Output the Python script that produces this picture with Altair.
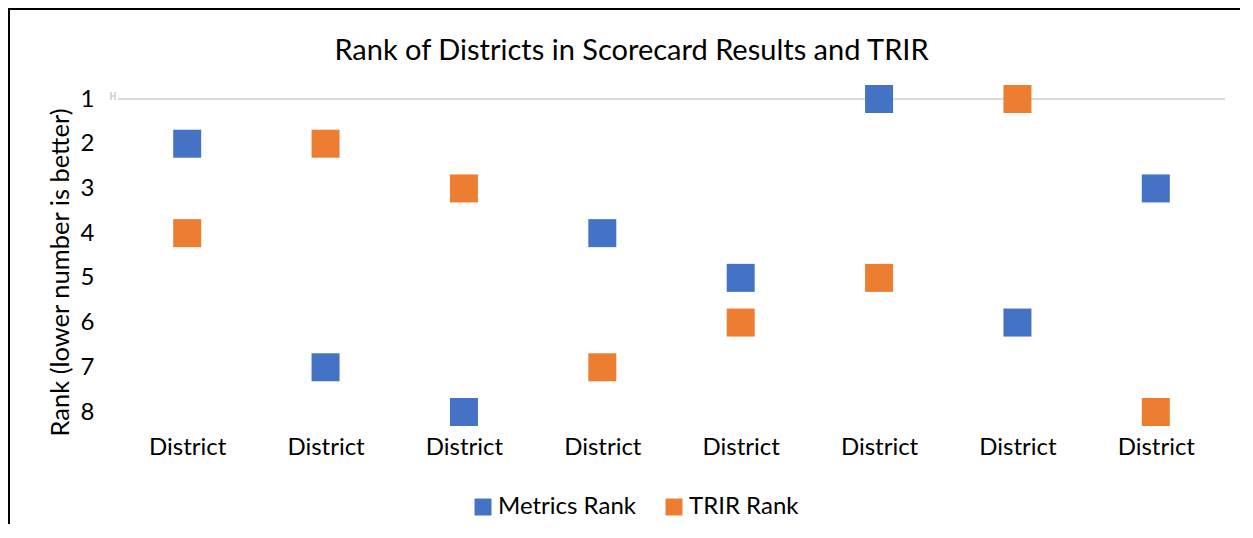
import altair as alt
import pandas as pd

# ---- data ----
district_slots = ["1", "2", "3", "4", "5", "6", "7", "8"]
district_labels = ["District"] * 8
metrics_rank = [2, 7, 8, 4, 5, 1, 6, 3]
trir_rank = [4, 2, 3, 7, 6, 5, 1, 8]
series_names = ["Metrics Rank", "TRIR Rank"]
series_colors = ["#4472C4", "#ED7D31"]
rank_ticks = [1, 2, 3, 4, 5, 6, 7, 8]

rows = []
for s, m, t in zip(district_slots, metrics_rank, trir_rank):
    rows.append({"slot": s, "series": series_names[0], "rank": m})
    rows.append({"slot": s, "series": series_names[1], "rank": t})
df = pd.DataFrame(rows)

FONT = "Lato"
label_expr = "[" + ",".join("'" + l + "'" for l in district_labels) + "][toNumber(datum.value) - 1]"

W, H = 1107, 313
PAD_L, PAD_T, PAD_R, PAD_B = 110, 91, 15, 112
GRAY = "#D9D9D9"

y_scale = alt.Scale(domain=[1, 8], reverse=True, nice=False, zero=False)

x_enc = alt.X(
    "slot:O",
    sort=district_slots,
    scale=alt.Scale(paddingInner=0, paddingOuter=0),
    axis=alt.Axis(
        title=None, labelExpr=label_expr, labelAngle=0, domain=False, ticks=False,
        tickSize=0, labelFont=FONT, labelFontSize=24, labelColor="#000000",
        labelBaseline="alphabetic", labelPadding=42,
    ),
)
y_enc = alt.Y(
    "rank:Q",
    scale=y_scale,
    axis=alt.Axis(
        title="Rank (lower number is better)", values=rank_ticks, format="d",
        grid=False, domain=False, ticks=False, tickSize=0,
        labelFont=FONT, labelFontSize=24, labelColor="#000000", labelPadding=24,
        titleFont=FONT, titleFontSize=25.5, titleFontWeight="normal", titleColor="#000000",
        titleAngle=270, titleAlign="center", titleBaseline="middle",
        titleX=-58, titleY=173,
    ),
)

axis_line = alt.Chart(pd.DataFrame({"r": [1]})).mark_rule(
    color=GRAY, strokeWidth=2
).encode(y=alt.Y("r:Q", scale=y_scale))

# small axis-break glyph at the left end of the horizontal axis line
brk = pd.DataFrame({"r": [1]})
break_a = alt.Chart(brk).mark_rule(color=GRAY, strokeWidth=2).encode(
    x=alt.value(-7), y=alt.value(-7), y2=alt.value(1)
)
break_b = alt.Chart(brk).mark_rule(color=GRAY, strokeWidth=2).encode(
    x=alt.value(-3), y=alt.value(-7), y2=alt.value(1)
)
break_c = alt.Chart(brk).mark_rule(color=GRAY, strokeWidth=2).encode(
    x=alt.value(-7), x2=alt.value(-3), y=alt.value(-3)
)

points = alt.Chart(df).mark_square(size=784, opacity=1, filled=True).encode(
    x=x_enc,
    y=y_enc,
    color=alt.Color(
        "series:N",
        scale=alt.Scale(domain=series_names, range=series_colors),
        legend=alt.Legend(
            title=None, orient="none", direction="horizontal",
            legendX=353, legendY=396, symbolType="square", symbolSize=289,
            symbolStrokeWidth=0, labelFont=FONT, labelFontSize=24, labelColor="#000000",
            labelOffset=3, columnPadding=26, padding=0,
        ),
    ),
)

border_left = alt.Chart(pd.DataFrame({"r": [0]})).mark_rule(color="#000000", strokeWidth=2).encode(
    x=alt.value(-PAD_L + 1), y=alt.value(-PAD_T), y2=alt.value(H + PAD_B)
)
border_top = alt.Chart(pd.DataFrame({"r": [0]})).mark_rule(color="#000000", strokeWidth=2).encode(
    x=alt.value(-PAD_L), x2=alt.value(W + PAD_R), y=alt.value(-PAD_T + 1)
)

chart = alt.layer(axis_line, break_a, break_b, break_c, points, border_left, border_top).properties(
    width=W, height=H,
    title=alt.TitleParams(
        "Rank of Districts in Scorecard Results and TRIR",
        font=FONT, fontSize=29, fontWeight="normal", color="#000000",
        anchor="middle", dx=-40, dy=112, baseline="alphabetic", offset=30,
    ),
    padding={"left": PAD_L, "top": PAD_T, "right": PAD_R, "bottom": PAD_B},
    autosize=alt.AutoSizeParams(type="none"),
    background="#FFFFFF",
).configure_view(stroke=None)

chart.save("out.html", embed_options={"renderer": "svg", "actions": False})
